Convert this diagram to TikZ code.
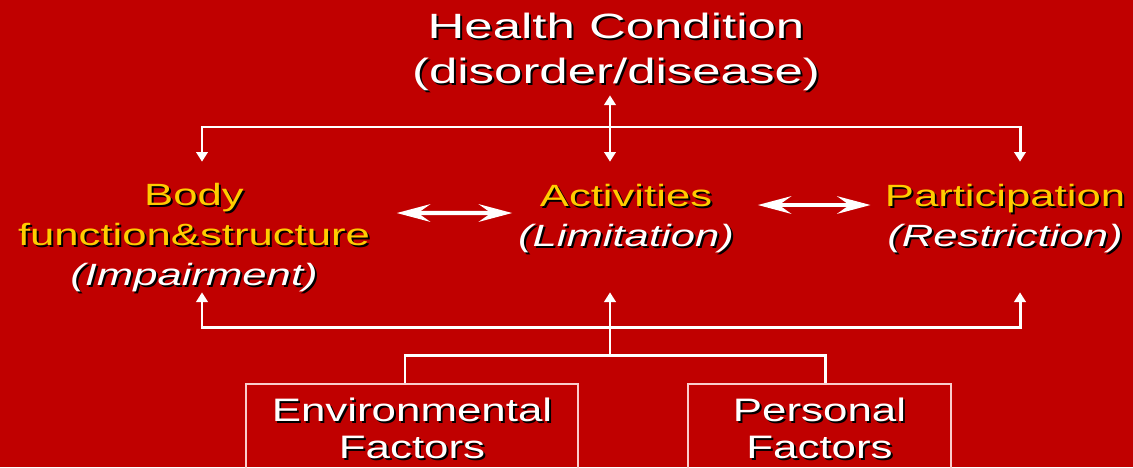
\documentclass[tikz,border=0pt]{standalone}
\usepackage{fontspec}
\setmainfont{Liberation Sans}
\usetikzlibrary{arrows.meta}
\definecolor{slidered}{RGB}{192,0,0}
\definecolor{hiyel}{RGB}{255,204,0}
\definecolor{boxline}{RGB}{250,205,205}
\newcommand{\xsc}{1.4}
% one line of slide text: widened, with a dark drop shadow
\newcommand{\shline}[1]{\scalebox{\xsc}[1]{\rlap{\kern0.8pt\raisebox{-1.2pt}{\color{black}#1}}#1}}

\begin{document}
\begin{tikzpicture}[x=0.02cm,y=-0.02cm,
		>={Triangle[length=5.5pt,width=6.5pt]},
		link/.style={draw=white,line width=1.7pt},
		dbl/.style={draw=white,line width=2.3pt,{Stealth[length=19pt,width=10pt,inset=7pt]}-{Stealth[length=19pt,width=10pt,inset=7pt]}},
		topnd/.style={inner sep=0pt,text=white,align=center,font={\fontsize{20}{25.5}\selectfont\def\xsc{1.45}}},
		midnd/.style={inner sep=0pt,align=center,anchor=base,text=hiyel,text height=1.68cm,text depth=0.92cm,font={\fontsize{17.5}{22.7}\selectfont\def\xsc{1.42}}},
		factor/.style={draw=boxline,line width=0.9pt,inner sep=0pt,anchor=north,align=center,text=white,text height=1.5cm,text depth=1.26cm,font={\fontsize{18.5}{21}\selectfont\def\xsc{1.35}}}]
	\fill[slidered] (0,0) rectangle (1133,467);
	\useasboundingbox (0,0) rectangle (1133,467);
	\node[topnd,anchor=base,text depth=0.24cm] (health) at (616,83) {\shline{Health Condition}\\\shline{(disorder/disease)}};
	\node[midnd,text height=2.46cm,text depth=0.14cm] (body) at (194,285) {\shline{Body}\\\shline{function\&structure}\\{\color{white}\itshape\shline{(Impairment)}}};
	\node[midnd] (act) at (626,246) {\shline{Activities}\\{\color{white}\itshape\shline{(Limitation)}}};
	\node[midnd] (part) at (1005,246) {\shline{Participation}\\{\color{white}\itshape\shline{(Restriction)}}};
	\node[factor,minimum width=6.64cm] (env) at (412,383) {\shline{Environmental}\\\shline{Factors}};
	\node[factor,minimum width=5.26cm] (pers) at (819.5,383) {\shline{Personal}\\\shline{Factors}};
	\coordinate (top) at (610,127);
	\coordinate (low) at (610,327);
	\coordinate (fac) at (610,355);
	\draw[link,<->] (health.south -| top) -- (act.north -| top);
	\draw[link,->] (top) -| ([xshift=0.16cm]body.north);
	\draw[link,->] (top) -| ([xshift=0.3cm]part.north);
	\draw[link,->] (fac) -- (act.south -| fac);
	\draw[link,->] (low) -| ([xshift=0.16cm]body.south);
	\draw[link,->] (low) -| ([xshift=0.3cm]part.south);
	\draw[link] ([xshift=-0.14cm]env.north) |- (fac) -| ([xshift=0.11cm]pers.north);
	\draw[dbl,shorten <=0.53cm,shorten >=0.11cm] ([yshift=0.28cm]body.east) -- ([yshift=0.28cm]act.west);
	\draw[dbl,shorten <=0.47cm,shorten >=0.28cm] ([yshift=0.44cm]act.east) -- ([yshift=0.44cm]part.west);
\end{tikzpicture}
\end{document}
